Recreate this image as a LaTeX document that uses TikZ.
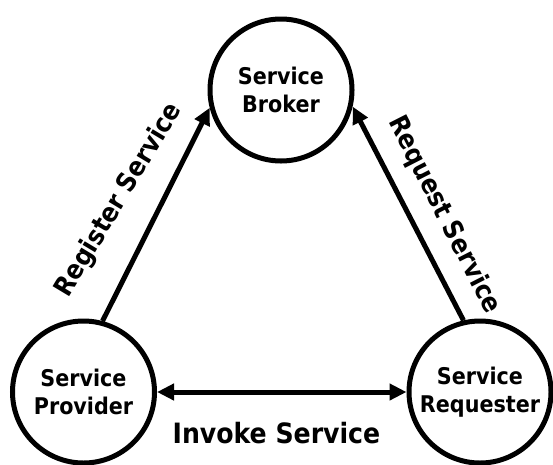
\documentclass[tikz,border=0pt]{standalone}
\usepackage{fontspec}
\setmainfont{DejaVu Sans Condensed}
\usetikzlibrary{arrows.meta}
\tikzset{
  role/.style={circle, draw, line width=5pt, minimum size=142pt, inner sep=0pt,
    align=center, font=\bfseries\fontsize{23}{28}\selectfont},
  flow/.style={line width=5pt, -{Triangle[length=17pt,width=16pt]}},
  flowboth/.style={line width=5pt, {Triangle[length=17pt,width=16pt]}-{Triangle[length=17pt,width=16pt]}},
  flowlabel/.style={font=\bfseries\fontsize{26.5}{30}\selectfont, inner sep=0pt}
}
\begin{document}
\begin{tikzpicture}[x=1pt,y=-1pt]
  \useasboundingbox (0,0) rectangle (553,464);

  % the three roles
  \node[role] (broker)    at (281,90)  {Service\\Broker};
  \node[role] (provider)  at (83.5,392) {Service\\Provider};
  \node[role] (requester) at (480,392) {Service\\Requester};

  % interactions
  \draw[flow] (provider.75.6) -- (broker.194);
  \draw[flow] (requester.103.7) -- (broker.-13);
  \draw[flowboth] (provider.0) -- (requester.180);

  % labels
  \node[flowlabel, rotate=59]  (reglbl) at (119,200) {Register Service};
  \node[flowlabel, rotate=-63] (reqlbl) at (444,215) {Request Service};
  \node[flowlabel, font=\bfseries\fontsize{28}{32}\selectfont, anchor=base] (invlbl) at (276.5,443) {Invoke Service};
\end{tikzpicture}
\end{document}
